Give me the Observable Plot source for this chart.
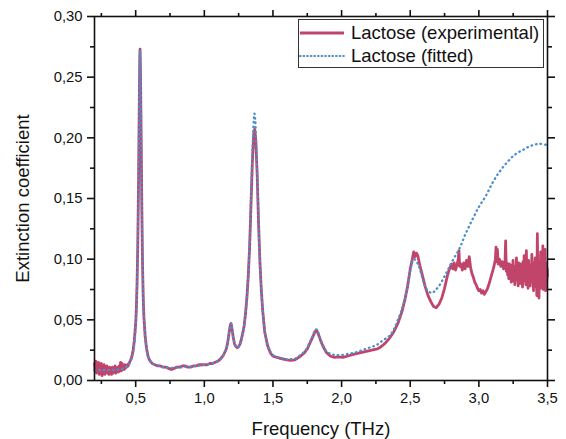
<!DOCTYPE html>
<html>
<head>
<meta charset="utf-8">
<script src="https://cdn.jsdelivr.net/npm/d3@7"></script>
<script src="https://cdn.jsdelivr.net/npm/@observablehq/plot@0.6"></script>
<style>
  html, body { margin: 0; padding: 0; background: #fff; }
  #wrap { position: relative; width: 566px; height: 439px; font-family: "Liberation Sans", Arial, sans-serif; color: #111; }
  #legend { position: absolute; left: 298px; top: 19px; width: 246px; height: 49px; border: 1px solid #333; background: #fff; box-sizing: border-box; }
  .row { position: absolute; left: 0; height: 23px; display: flex; align-items: center; font-size: 18.5px; white-space: nowrap; }
  .row svg { display: block; margin-right: 6px; }
</style>
</head>
<body>
<div id="wrap"></div>
<script>
// ---- data (frequency in THz, extinction coefficient) ----
const seriesNames = ["Lactose (experimental)", "Lactose (fitted)"];
const seriesColors = ["#c1446b", "#4d8fca"];

const experimental = [
[0.200,0.014],[0.205,0.008],[0.210,0.016],[0.215,0.006],[0.220,0.013],[0.225,0.009],[0.230,0.015],[0.235,0.005],
[0.240,0.012],[0.245,0.007],[0.250,0.014],[0.255,0.004],[0.260,0.011],[0.265,0.008],[0.270,0.013],[0.275,0.005],
[0.280,0.010],[0.285,0.007],[0.290,0.012],[0.295,0.006],[0.300,0.010],[0.305,0.005],[0.310,0.011],[0.315,0.007],
[0.320,0.009],[0.325,0.005],[0.330,0.011],[0.335,0.006],[0.340,0.010],[0.345,0.007],[0.350,0.012],[0.355,0.006],
[0.360,0.010],[0.365,0.008],[0.370,0.011],[0.375,0.007],[0.380,0.012],[0.385,0.008],[0.390,0.015],[0.395,0.008],
[0.400,0.014],[0.405,0.009],[0.410,0.012],[0.415,0.009],[0.420,0.013],[0.425,0.010],[0.430,0.012],[0.435,0.011],
[0.440,0.013],[0.445,0.012],[0.450,0.014],[0.460,0.016],[0.470,0.019],[0.480,0.024],[0.490,0.033],[0.500,0.047],
[0.505,0.060],[0.510,0.080],[0.515,0.110],[0.520,0.155],[0.525,0.215],[0.530,0.268],[0.532,0.273],[0.535,0.255],
[0.540,0.200],[0.545,0.140],[0.550,0.095],[0.555,0.068],[0.560,0.052],[0.570,0.035],[0.580,0.026],[0.590,0.020],
[0.600,0.017],[0.620,0.014],[0.640,0.013],[0.660,0.012],[0.680,0.012],[0.700,0.011],[0.720,0.011],[0.740,0.010],
[0.760,0.009],[0.780,0.010],[0.800,0.011],[0.820,0.011],[0.840,0.012],[0.860,0.012],[0.880,0.011],[0.900,0.011],
[0.920,0.012],[0.940,0.012],[0.960,0.013],[0.980,0.013],[1.000,0.013],[1.020,0.013],[1.040,0.014],[1.060,0.014],
[1.080,0.015],[1.100,0.016],[1.120,0.018],[1.140,0.021],[1.160,0.026],[1.170,0.031],[1.180,0.039],[1.190,0.046],
[1.195,0.047],[1.200,0.044],[1.210,0.036],[1.220,0.030],[1.230,0.028],[1.240,0.027],[1.250,0.028],[1.260,0.030],
[1.270,0.034],[1.280,0.039],[1.290,0.045],[1.300,0.055],[1.310,0.068],[1.320,0.086],[1.330,0.110],[1.340,0.145],
[1.350,0.180],[1.360,0.203],[1.367,0.207],[1.375,0.198],[1.385,0.170],[1.395,0.130],[1.405,0.098],[1.415,0.075],
[1.425,0.058],[1.440,0.040],[1.460,0.029],[1.480,0.023],[1.500,0.020],[1.530,0.019],[1.560,0.018],[1.600,0.017],
[1.630,0.0165],[1.660,0.017],[1.700,0.020],[1.730,0.023],[1.750,0.026],[1.770,0.031],[1.790,0.036],[1.810,0.041],
[1.820,0.041],[1.835,0.037],[1.850,0.032],[1.870,0.027],[1.890,0.023],[1.920,0.020],[1.950,0.019],[1.980,0.0195],
[2.010,0.019],[2.040,0.020],[2.070,0.021],[2.100,0.022],[2.140,0.023],[2.180,0.024],[2.220,0.025],[2.260,0.026],
[2.290,0.028],[2.320,0.031],[2.350,0.035],[2.380,0.040],[2.410,0.047],[2.440,0.057],[2.460,0.066],[2.480,0.077],
[2.500,0.092],[2.515,0.100],[2.525,0.106],[2.535,0.102],[2.545,0.105],[2.555,0.103],[2.570,0.095],[2.590,0.086],
[2.610,0.077],[2.630,0.070],[2.650,0.065],[2.670,0.061],[2.690,0.060],[2.710,0.063],[2.730,0.068],[2.750,0.076],
[2.770,0.086],[2.780,0.090],[2.790,0.093],[2.800,0.096],[2.810,0.092],[2.820,0.097],[2.830,0.091],[2.840,0.095],
[2.850,0.100],[2.855,0.107],[2.860,0.094],[2.870,0.096],[2.880,0.091],[2.890,0.097],[2.900,0.092],[2.910,0.099],
[2.920,0.094],[2.930,0.102],[2.940,0.093],[2.950,0.088],[2.960,0.085],[2.970,0.081],[2.980,0.079],[2.990,0.076],
[3.000,0.074],[3.010,0.075],[3.020,0.072],[3.030,0.074],[3.040,0.071],[3.050,0.073],[3.060,0.075],[3.070,0.078],
[3.080,0.082],[3.090,0.086],[3.100,0.090],[3.110,0.094],[3.120,0.100],[3.125,0.110],[3.130,0.098],[3.135,0.108],
[3.140,0.096],[3.150,0.100],[3.160,0.094],[3.170,0.098],[3.180,0.092],[3.190,0.096],[3.195,0.115],[3.200,0.090],
[3.205,0.097],[3.210,0.087],[3.215,0.093],[3.218,0.084],[3.223,0.096],[3.228,0.086],[3.231,0.090],[3.236,0.081],
[3.240,0.095],[3.244,0.088],[3.249,0.099],[3.253,0.082],[3.257,0.091],[3.262,0.079],[3.266,0.094],[3.270,0.085],
[3.274,0.101],[3.278,0.083],[3.282,0.089],[3.286,0.078],[3.290,0.097],[3.294,0.086],[3.298,0.092],[3.302,0.080],
[3.306,0.096],[3.310,0.084],[3.314,0.090],[3.318,0.077],[3.322,0.098],[3.326,0.087],[3.330,0.103],[3.334,0.082],
[3.338,0.094],[3.342,0.079],[3.346,0.107],[3.350,0.085],[3.354,0.092],[3.358,0.076],[3.362,0.099],[3.366,0.088],
[3.370,0.095],[3.374,0.078],[3.378,0.090],[3.382,0.083],[3.386,0.104],[3.390,0.081],[3.394,0.093],[3.398,0.074],
[3.402,0.097],[3.406,0.086],[3.410,0.101],[3.414,0.077],[3.418,0.092],[3.422,0.070],[3.426,0.121],[3.430,0.079],
[3.434,0.094],[3.438,0.068],[3.442,0.098],[3.446,0.084],[3.450,0.106],[3.454,0.076],[3.458,0.092],[3.462,0.080],
[3.466,0.111],[3.470,0.075],[3.474,0.096],[3.478,0.083],[3.482,0.108],[3.486,0.074],[3.490,0.097],[3.494,0.081],
[3.498,0.092],[3.500,0.086]
];

const fitted = [
[0.20,0.0085],[0.25,0.0085],[0.30,0.0086],[0.35,0.0088],[0.40,0.0095],[0.43,0.011],[0.45,0.013],[0.47,0.018],
[0.49,0.030],[0.50,0.045],[0.505,0.058],[0.510,0.078],[0.515,0.108],[0.520,0.152],[0.525,0.212],[0.530,0.265],
[0.532,0.272],[0.535,0.256],[0.540,0.202],[0.545,0.142],[0.550,0.097],[0.555,0.069],[0.560,0.053],[0.570,0.035],
[0.580,0.026],[0.590,0.020],[0.60,0.017],[0.62,0.014],[0.65,0.013],[0.70,0.011],[0.75,0.0105],[0.80,0.0105],
[0.85,0.011],[0.90,0.0115],[0.95,0.012],[1.00,0.013],[1.05,0.014],[1.10,0.016],[1.12,0.018],[1.14,0.021],
[1.16,0.026],[1.17,0.031],[1.18,0.039],[1.19,0.046],[1.195,0.047],[1.20,0.044],[1.21,0.036],[1.22,0.031],
[1.23,0.028],[1.24,0.027],[1.25,0.028],[1.26,0.030],[1.27,0.034],[1.28,0.039],[1.29,0.045],[1.30,0.055],
[1.31,0.068],[1.32,0.087],[1.33,0.113],[1.34,0.150],[1.35,0.188],[1.36,0.214],[1.365,0.220],[1.37,0.216],
[1.375,0.204],[1.385,0.172],[1.395,0.131],[1.405,0.098],[1.415,0.075],[1.425,0.058],[1.44,0.041],[1.46,0.030],
[1.48,0.024],[1.50,0.021],[1.53,0.019],[1.56,0.0185],[1.60,0.0175],[1.63,0.0175],[1.66,0.018],[1.70,0.021],
[1.73,0.024],[1.75,0.027],[1.77,0.032],[1.79,0.037],[1.81,0.042],[1.82,0.042],[1.835,0.038],[1.85,0.033],
[1.87,0.028],[1.89,0.024],[1.92,0.022],[1.95,0.021],[2.00,0.021],[2.05,0.022],[2.10,0.023],[2.15,0.025],
[2.20,0.027],[2.25,0.029],[2.30,0.033],[2.35,0.037],[2.38,0.042],[2.41,0.050],[2.44,0.059],[2.46,0.067],
[2.48,0.078],[2.50,0.090],[2.52,0.099],[2.53,0.100],[2.545,0.098],[2.56,0.095],[2.58,0.088],[2.60,0.080],
[2.62,0.075],[2.64,0.073],[2.66,0.072],[2.68,0.074],[2.71,0.078],[2.76,0.088],[2.81,0.099],[2.86,0.109],
[2.90,0.120],[2.95,0.132],[3.00,0.143],[3.05,0.152],[3.10,0.163],[3.15,0.172],[3.20,0.179],[3.26,0.186],
[3.32,0.190],[3.38,0.1935],[3.44,0.195],[3.50,0.194]
];

const xMajorTicks = [0.5, 1.0, 1.5, 2.0, 2.5, 3.0, 3.5];
const xMinorTicks = [0.25, 0.75, 1.25, 1.75, 2.25, 2.75, 3.25];
const yMajorTicks = [0, 0.05, 0.10, 0.15, 0.20, 0.25, 0.30];
const yMinorTicks = [0.025, 0.075, 0.125, 0.175, 0.225, 0.275];
const xTitle = "Frequency (THz)";
const yTitle = "Extinction coefficient";

// ---- chart ----
const fmtX = d => d.toFixed(1).replace(".", ",");
const fmtY = d => d.toFixed(2).replace(".", ",");
const tickStyle = {strokeWidth: 1.6, label: null};

const chart = Plot.plot({
  width: 566,
  height: 439,
  marginLeft: 94,
  marginRight: 19,
  marginTop: 16,
  marginBottom: 59,
  style: {fontFamily: "'Liberation Sans', Arial, sans-serif", fontSize: "14.8px", color: "#111", background: "#fff"},
  x: {domain: [0.2, 3.5]},
  y: {domain: [0, 0.3]},
  marks: [
    Plot.axisX({...tickStyle, anchor: "bottom", ticks: xMajorTicks, tickSize: 7, tickPadding: 5, tickFormat: fmtX}),
    Plot.axisX({...tickStyle, anchor: "bottom", ticks: xMinorTicks, tickSize: 4, tickFormat: () => ""}),
    Plot.axisX({...tickStyle, anchor: "top", ticks: xMajorTicks, tickSize: 7, tickFormat: () => ""}),
    Plot.axisX({...tickStyle, anchor: "top", ticks: xMinorTicks, tickSize: 4, tickFormat: () => ""}),
    Plot.axisY({...tickStyle, anchor: "left", ticks: yMajorTicks, tickSize: 7, tickPadding: 5, tickFormat: fmtY}),
    Plot.axisY({...tickStyle, anchor: "left", ticks: yMinorTicks, tickSize: 4, tickFormat: () => ""}),
    Plot.axisY({...tickStyle, anchor: "right", ticks: yMajorTicks, tickSize: 7, tickFormat: () => ""}),
    Plot.axisY({...tickStyle, anchor: "right", ticks: yMinorTicks, tickSize: 4, tickFormat: () => ""}),
    Plot.line(experimental, {x: d => d[0], y: d => d[1], stroke: seriesColors[0], strokeWidth: 2.8, strokeLinejoin: "round"}),
    Plot.line(fitted, {x: d => d[0], y: d => d[1], stroke: seriesColors[1], strokeWidth: 2.3, strokeDasharray: "0.6,4", strokeLinecap: "round", curve: "catmull-rom"}),
    Plot.frame({stroke: "#111", strokeWidth: 1.6}),
    Plot.text([xTitle], {frameAnchor: "bottom", dy: 54, lineAnchor: "bottom", textAnchor: "middle", fontSize: 18.5, fill: "#111"}),
    Plot.text([yTitle], {frameAnchor: "left", dx: -79, rotate: -90, lineAnchor: "top", textAnchor: "middle", fontSize: 18.5, fill: "#111"})
  ]
});

const wrap = document.getElementById("wrap");
wrap.appendChild(chart);

// legend (HTML overlay)
const legend = document.createElement("div");
legend.id = "legend";
seriesNames.forEach((name, i) => {
  const row = document.createElement("div");
  row.className = "row";
  row.style.top = (i === 0 ? 1 : 24) + "px";
  const dash = i === 0 ? `stroke-linecap="butt"` : `stroke-dasharray="0.6,3" stroke-linecap="round"`;
  const sw = i === 0 ? 2.8 : 2.2;
  row.innerHTML = `<svg width="46" height="10"><line x1="1" x2="45" y1="5" y2="5" stroke="${seriesColors[i]}" stroke-width="${sw}" ${dash}/></svg><span>${name}</span>`;
  legend.appendChild(row);
});
wrap.appendChild(legend);
</script>
</body>
</html>
